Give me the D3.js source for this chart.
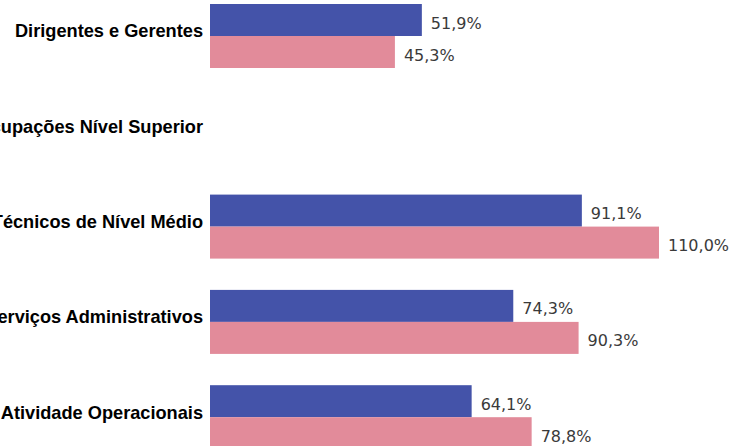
<!DOCTYPE html>
<html>
<head>
<meta charset="utf-8">
<script src="https://cdn.jsdelivr.net/npm/d3@7"></script>
<style>
  html, body { margin: 0; padding: 0; background: #fff; }
  svg { display: block; }
  .cat-label { font-family: "Liberation Sans", Arial, sans-serif; font-weight: bold; font-size: 18.2px; fill: #000; }
  .val-label { font-family: "DejaVu Sans", Verdana, sans-serif; font-size: 16px; fill: #3a3a3a; }
</style>
</head>
<body>
<div id="chart"></div>
<script>
// Categorias (ocupações)
const categorias = [
  "Dirigentes e Gerentes",
  "Ocupações Nível Superior",
  "Técnicos de Nível Médio",
  "Serviços Administrativos",
  "Atividade Operacionais"
];
// Série azul e série rosa (%), null = sem valor
const serieAzul = [51.9, null, 91.1, 74.3, 64.1];
const serieRosa = [45.3, null, 110.0, 90.3, 78.8];
const series = ["azul", "rosa"];
const cores = { azul: "#4453a9", rosa: "#e28b9a" };

const width = 734, height = 446;
const margin = { left: 210 };

const dados = categorias.map((c, i) => ({
  categoria: c,
  valores: [
    { serie: "azul", valor: serieAzul[i] },
    { serie: "rosa", valor: serieRosa[i] }
  ]
}));

const svg = d3.select("#chart").append("svg")
  .attr("width", width)
  .attr("height", height);

const x = d3.scaleLinear()
  .domain([0, 110])
  .range([margin.left, 659]);

const y = d3.scaleBand()
  .domain(categorias)
  .range([4, 449.2])
  .paddingInner(0.3284)
  .paddingOuter(0);

const ySub = d3.scaleBand()
  .domain(series)
  .range([0, y.bandwidth()]);

const grupos = svg.selectAll("g.grupo")
  .data(dados)
  .join("g")
  .attr("class", "grupo")
  .attr("transform", d => `translate(0,${y(d.categoria)})`);

// Rótulos das categorias (cortados à esquerda, como no original)
grupos.append("text")
  .attr("class", "cat-label")
  .attr("x", margin.left - 7)
  .attr("y", y.bandwidth() / 2 - 5)
  .attr("dy", "0.35em")
  .attr("text-anchor", "end")
  .text(d => d.categoria);

const barras = grupos.selectAll("g.barra")
  .data(d => d.valores.filter(v => v.valor != null))
  .join("g")
  .attr("class", "barra");

barras.append("rect")
  .attr("x", x(0))
  .attr("y", d => ySub(d.serie))
  .attr("width", d => x(d.valor) - x(0))
  .attr("height", ySub.bandwidth())
  .attr("fill", d => cores[d.serie]);

// Rótulos de valor
barras.append("text")
  .attr("class", "val-label")
  .attr("x", d => x(d.valor) + 9)
  .attr("y", d => ySub(d.serie) + ySub.bandwidth() / 2 + 3)
  .attr("dy", "0.35em")
  .text(d => d3.format(".1f")(d.valor).replace(".", ",") + "%");
</script>
</body>
</html>
